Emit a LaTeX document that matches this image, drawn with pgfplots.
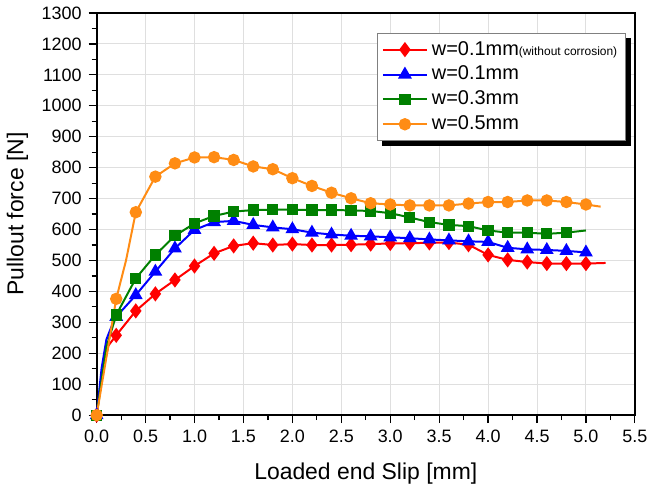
\documentclass[border=0pt]{standalone}
\usepackage{fontspec}
\setmainfont{Liberation Sans}
\usepackage{pgfplots}
\pgfplotsset{compat=1.18}

\definecolor{cRed}{RGB}{255,0,0}
\definecolor{cBlue}{RGB}{0,0,255}
\definecolor{cGreen}{RGB}{0,128,0}
\definecolor{cOrange}{RGB}{255,140,20}

\begin{document}
\begin{tikzpicture}
\begin{axis}[
    scale only axis,
    width=269bp, height=201bp,
    xmin=0, xmax=5.5, ymin=0, ymax=1300,
    xtick={0,0.5,1,1.5,2,2.5,3,3.5,4,4.5,5,5.5},
    ytick={0,100,200,300,400,500,600,700,800,900,1000,1100,1200,1300},
    minor x tick num=1, minor y tick num=1,
    tick align=outside, xtick pos=bottom, ytick pos=left,
    major tick length=4bp, minor tick length=2.5bp,
    tick style={black, line width=0.6pt},
    grid=major,
    major grid style={gray!25, line width=0.5pt},
    axis line style={black, line width=0.9pt},
    /pgf/number format/assume math mode=true,
    ticklabel style={font=\fontsize{9}{11}\selectfont},
    xticklabel style={/pgf/number format/.cd, fixed, fixed zerofill, precision=1},
    yticklabel style={/pgf/number format/.cd, 1000 sep={}},
    xlabel={Loaded end Slip [mm]},
    ylabel={Pullout force [N]},
    label style={font=\fontsize{11.5}{13}\selectfont},
    xlabel style={yshift=-3bp},
    legend cell align=left,
    legend image code/.code={
        \draw[#1, mark indices={2}] plot coordinates {(0bp,0bp) (11bp,0bp) (22bp,0bp)};
    },
    legend style={
        name=lgd,
        at={(0.983,0.951)}, anchor=north east,
        draw=gray, line width=0.5pt, fill=white,
        font=\fontsize{10}{12}\selectfont,
        inner sep=2bp, row sep=0bp,
    },
    every axis plot/.append style={line width=1pt},
]

\addplot[color=cRed, mark=diamond*, mark size=3bp,
    mark indices={1,4,5,6,7,8,9,10,11,12,13,14,15,16,17,18,19,20,21,22,23,24,25,26,27,28}]
coordinates {
    (0,0) (0.05,120) (0.12,225) (0.2,258) (0.4,337) (0.6,392) (0.8,437) (1.0,482)
    (1.2,523) (1.4,547) (1.6,556) (1.8,550) (2.0,553) (2.2,550) (2.4,550) (2.6,551)
    (2.8,553) (3.0,555) (3.2,556) (3.4,557) (3.6,558) (3.8,551) (4.0,518) (4.2,502)
    (4.4,495) (4.6,490) (4.8,490) (5.0,490) (5.2,492)
};

\addplot[color=cBlue, mark=triangle*, mark size=3bp,
    mark indices={1,5,6,7,8,9,10,11,12,13,14,15,16,17,18,19,20,21,22,23,24,25,26,27,28,29}]
coordinates {
    (0,0) (0.05,150) (0.1,245) (0.15,285) (0.2,318) (0.4,388) (0.6,464) (0.8,539)
    (1.0,599) (1.2,624) (1.4,628) (1.6,615) (1.8,607) (2.0,601) (2.2,590) (2.4,584)
    (2.6,580) (2.8,578) (3.0,575) (3.2,572) (3.4,568) (3.6,565) (3.8,562) (4.0,560)
    (4.2,541) (4.4,536) (4.6,534) (4.8,531) (5.0,526)
};

\addplot[color=cGreen, mark=square*, mark size=2.3bp,
    mark indices={1,3,4,5,6,7,8,9,10,11,12,13,14,15,16,17,18,19,20,21,22,23,24,25,26}]
coordinates {
    (0,0) (0.1,220) (0.2,324) (0.4,442) (0.6,518) (0.8,580) (1.0,620) (1.2,644)
    (1.4,658) (1.6,663) (1.8,664) (2.0,664) (2.2,663) (2.4,663) (2.6,662) (2.8,660)
    (3.0,653) (3.2,639) (3.4,624) (3.6,615) (3.8,611) (4.0,597) (4.2,590) (4.4,590)
    (4.6,586) (4.8,590) (5.0,597)
};

\addplot[color=cOrange, mark=*, mark size=2.6bp,
    mark indices={1,3,5,6,7,8,9,10,11,12,13,14,15,16,17,18,19,20,21,22,23,24,25,26,27,28}]
coordinates {
    (0,0) (0.1,188) (0.2,376) (0.3,500) (0.4,656) (0.6,771) (0.8,814) (1.0,833)
    (1.2,834) (1.4,825) (1.6,804) (1.8,795) (2.0,766) (2.2,741) (2.4,719) (2.6,701)
    (2.8,685) (3.0,681) (3.2,678) (3.4,678) (3.6,678) (3.8,684) (4.0,689) (4.2,689)
    (4.4,694) (4.6,694) (4.8,689) (5.0,681) (5.15,674)
};

\legend{w=0.1mm{\fontsize{6}{7}\selectfont(without corrosion)}, w=0.1mm, w=0.3mm, w=0.5mm}
\end{axis}
% black shadow of the legend box (right and bottom edges)
\fill[black] ([yshift=-2.5bp]lgd.north east) rectangle ([xshift=2.5bp,yshift=-2.5bp]lgd.south east);
\fill[black] ([xshift=2.5bp]lgd.south west) rectangle ([xshift=2.5bp,yshift=-2.5bp]lgd.south east);
\end{tikzpicture}
\end{document}
